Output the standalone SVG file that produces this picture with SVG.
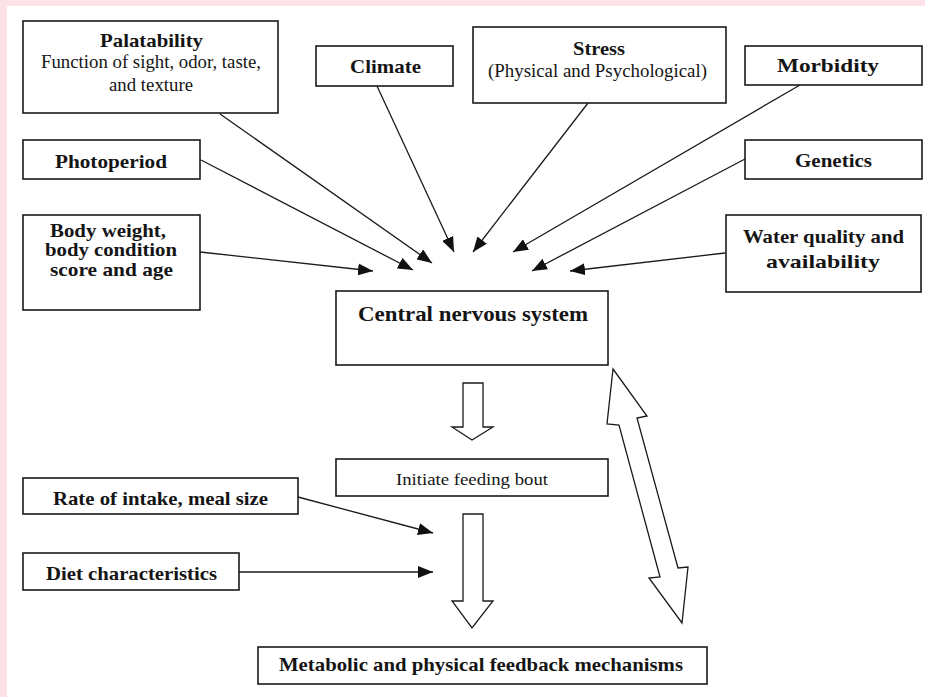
<svg xmlns="http://www.w3.org/2000/svg" width="925" height="697" viewBox="0 0 925 697">
<style>
.box{fill:#fff;stroke:#1a1a1a;stroke-width:1.6}
.t{font-family:"Liberation Serif","Times New Roman",serif;fill:#151515}
.b{font-weight:bold;font-size:19px}
.n{font-size:18px}
.c{stroke:#1a1a1a;stroke-width:1.3;fill:none;marker-end:url(#ah)}
.h{fill:#fff;stroke:#1a1a1a;stroke-width:1.3}
</style>
<defs>
<marker id="ah" viewBox="0 0 15 12" refX="15" refY="6" markerWidth="15" markerHeight="12" markerUnits="userSpaceOnUse" orient="auto">
<path d="M0,0 L15,6 L0,12 Z" fill="#111"/>
</marker>
</defs>
<rect width="925" height="697" fill="#fde2e7"/>
<rect x="7" y="6" width="918" height="691" fill="#fff"/>

<g id="palatability">
<rect class="box" x="23" y="21" width="255" height="92"/>
<text class="t b" x="100" y="47" textLength="103" lengthAdjust="spacingAndGlyphs">Palatability</text>
<text class="t n" x="41" y="68" textLength="220" lengthAdjust="spacingAndGlyphs">Function of sight, odor, taste,</text>
<text class="t n" x="109" y="91" textLength="84" lengthAdjust="spacingAndGlyphs">and texture</text>
</g>
<g id="photoperiod">
<rect class="box" x="23" y="140" width="177" height="39"/>
<text class="t b" x="55" y="168" textLength="112" lengthAdjust="spacingAndGlyphs">Photoperiod</text>
</g>
<g id="bodyweight">
<rect class="box" x="23" y="215" width="177" height="95"/>
<text class="t b" x="50" y="237" textLength="116" lengthAdjust="spacingAndGlyphs">Body weight,</text>
<text class="t b" x="45" y="256" textLength="132" lengthAdjust="spacingAndGlyphs">body condition</text>
<text class="t b" x="50" y="276" textLength="123" lengthAdjust="spacingAndGlyphs">score and age</text>
</g>
<g id="climate">
<rect class="box" x="316" y="46" width="137" height="40"/>
<text class="t b" x="350" y="73" textLength="71" lengthAdjust="spacingAndGlyphs">Climate</text>
</g>
<g id="stress">
<rect class="box" x="473" y="27" width="253" height="76"/>
<text class="t b" x="573" y="55" textLength="52" lengthAdjust="spacingAndGlyphs">Stress</text>
<text class="t n" x="488" y="77" textLength="219" lengthAdjust="spacingAndGlyphs">(Physical and Psychological)</text>
</g>
<g id="morbidity">
<rect class="box" x="745" y="46" width="177" height="39"/>
<text class="t b" x="777" y="72" textLength="102" lengthAdjust="spacingAndGlyphs">Morbidity</text>
</g>
<g id="genetics">
<rect class="box" x="745" y="140" width="177" height="39"/>
<text class="t b" x="795" y="167" textLength="77" lengthAdjust="spacingAndGlyphs">Genetics</text>
</g>
<g id="water">
<rect class="box" x="726" y="215" width="195" height="77"/>
<text class="t b" x="743" y="243" textLength="161" lengthAdjust="spacingAndGlyphs">Water quality and</text>
<text class="t b" x="766" y="268" textLength="114" lengthAdjust="spacingAndGlyphs">availability</text>
</g>
<g id="cns">
<rect class="box" x="336" y="291" width="272" height="74"/>
<text class="t b" style="font-size:22px" x="358" y="321" textLength="230" lengthAdjust="spacingAndGlyphs">Central nervous system</text>
</g>
<g id="initiate">
<rect class="box" x="336" y="459" width="272" height="37"/>
<text class="t" style="font-size:17px" x="396" y="485" textLength="152" lengthAdjust="spacingAndGlyphs">Initiate feeding bout</text>
</g>
<g id="rate">
<rect class="box" x="23" y="478" width="275" height="36"/>
<text class="t b" x="53" y="505" textLength="215" lengthAdjust="spacingAndGlyphs">Rate of intake, meal size</text>
</g>
<g id="diet">
<rect class="box" x="23" y="553" width="216" height="37"/>
<text class="t b" x="46" y="580" textLength="171" lengthAdjust="spacingAndGlyphs">Diet characteristics</text>
</g>
<g id="metabolic">
<rect class="box" x="258" y="647" width="449" height="37"/>
<text class="t b" x="279" y="671" textLength="404" lengthAdjust="spacingAndGlyphs">Metabolic and physical feedback mechanisms</text>
</g>

<g id="connectors">
<line class="c" x1="220" y1="114" x2="432" y2="263"/>
<line class="c" x1="201" y1="160" x2="413" y2="270"/>
<line class="c" x1="200" y1="252" x2="373" y2="271"/>
<line class="c" x1="377" y1="86" x2="454" y2="252"/>
<line class="c" x1="588" y1="103" x2="473" y2="252"/>
<line class="c" x1="800" y1="85" x2="513" y2="252"/>
<line class="c" x1="745" y1="159" x2="532" y2="271"/>
<line class="c" x1="725" y1="253" x2="570" y2="271"/>
<line class="c" x1="298" y1="497" x2="433" y2="533"/>
<line class="c" x1="239" y1="572" x2="433" y2="572"/>
<polygon class="h" points="463,383 483,383 483,427 493,427 472,440 452,427 463,427"/>
<polygon class="h" points="463,514 483,514 483,601 493,601 472,628 452,601 463,601"/>
<polygon class="h" points="613,369 647,416 637,418 678,568 688,567 682,623 649,578 660,577 619,425 607,424"/>
</g>
</svg>
